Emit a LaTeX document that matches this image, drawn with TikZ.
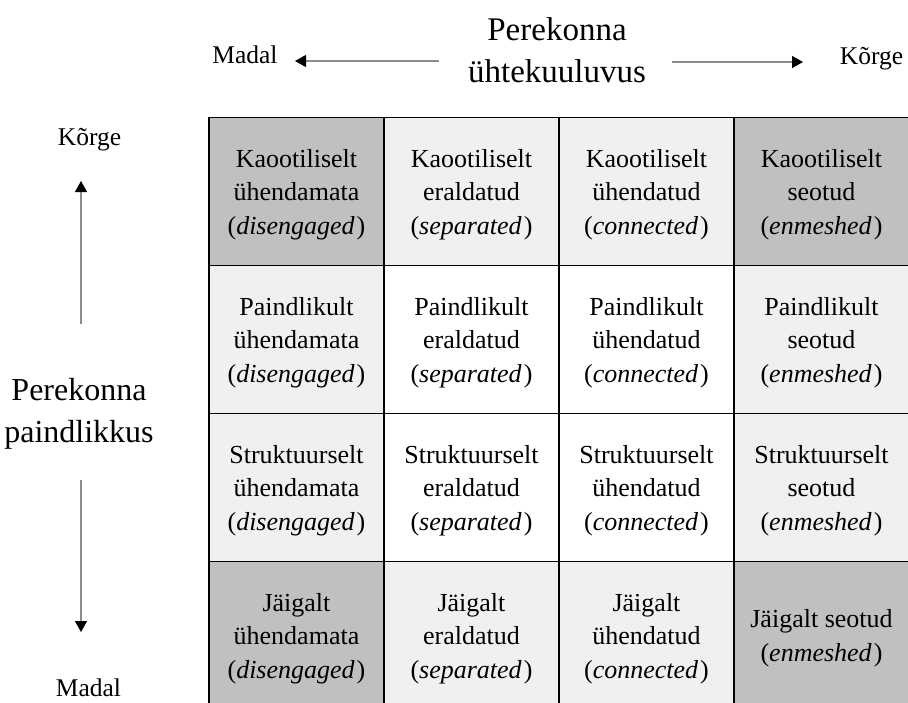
\documentclass[tikz,border=0pt]{standalone}
\usepackage{fontspec}
\setmainfont{Liberation Serif}
\usetikzlibrary{arrows.meta}
\definecolor{darkcell}{gray}{0.753}
\definecolor{lightcell}{gray}{0.94}
\definecolor{axisgray}{gray}{0.55}
\newcommand{\eng}[1]{(\textit{#1}\kern2pt)}
\begin{document}
\begin{tikzpicture}[x=1pt,y=-1pt,
  cell/.style={draw=black, line width=1.4pt, minimum width=175pt, minimum height=148pt,
    inner sep=0pt, align=center, text depth=0pt, font=\fontsize{26}{33.5}\selectfont},
  dk/.style={cell, fill=darkcell},
  lt/.style={cell, fill=lightcell},
  wt/.style={cell, fill=white},
  lab/.style={font=\fontsize{25.5}{30}\selectfont, inner sep=0pt, anchor=base},
  ttl/.style={font=\fontsize{33}{42}\selectfont, align=center, inner sep=0pt},
  axis/.style={draw=axisgray, line width=1.3pt,
    -{Triangle[length=11pt,width=12pt,color=black,fill=black]}}]
\useasboundingbox (0,0) rectangle (908,702);
\clip (0,0) rectangle (908,702);

% header
\node[ttl] (ttop) at (557,50) {Perekonna\\ühtekuuluvus};
\node[lab] (madaltop) at (245,63) {Madal};
\node[lab] (korgetop) at (871.5,64) {Kõrge};
\coordinate (a1s) at (439,61);
\coordinate (a1e) at (295,61);
\coordinate (a2s) at (672,62);
\coordinate (a2e) at (803,62);
\draw[axis] (a1s) -- (a1e);
\draw[axis] (a2s) -- (a2e);

% left
\node[ttl, font=\fontsize{32}{42}\selectfont] (tleft) at (79,413.5) {Perekonna\\paindlikkus};
\node[lab] (korgeleft) at (89.5,145) {Kõrge};
\node[lab] (madalleft) at (88.5,696) {Madal};
\coordinate (a3s) at (81,324);
\coordinate (a3e) at (81,181);
\coordinate (a4s) at (81,480);
\coordinate (a4e) at (81,632);
\draw[axis] (a3s) -- (a3e);
\draw[axis] (a4s) -- (a4e);

% grid
\node[dk] (c11) at (296.5,191.5) {Kaootiliselt\\ühendamata\\\eng{disengaged}};
\node[lt] (c12) at (471.5,191.5) {Kaootiliselt\\eraldatud\\\eng{separated}};
\node[lt] (c13) at (646.5,191.5) {Kaootiliselt\\ühendatud\\\eng{connected}};
\node[dk] (c14) at (821.5,191.5) {Kaootiliselt\\seotud\\\eng{enmeshed}};

\node[lt] (c21) at (296.5,339.5) {Paindlikult\\ühendamata\\\eng{disengaged}};
\node[wt] (c22) at (471.5,339.5) {Paindlikult\\eraldatud\\\eng{separated}};
\node[wt] (c23) at (646.5,339.5) {Paindlikult\\ühendatud\\\eng{connected}};
\node[lt] (c24) at (821.5,339.5) {Paindlikult\\seotud\\\eng{enmeshed}};

\node[lt] (c31) at (296.5,487.5) {Struktuurselt\\ühendamata\\\eng{disengaged}};
\node[wt] (c32) at (471.5,487.5) {Struktuurselt\\eraldatud\\\eng{separated}};
\node[wt] (c33) at (646.5,487.5) {Struktuurselt\\ühendatud\\\eng{connected}};
\node[lt] (c34) at (821.5,487.5) {Struktuurselt\\seotud\\\eng{enmeshed}};

\node[dk] (c41) at (296.5,635.5) {Jäigalt\\ühendamata\\\eng{disengaged}};
\node[lt] (c42) at (471.5,635.5) {Jäigalt\\eraldatud\\\eng{separated}};
\node[lt] (c43) at (646.5,635.5) {Jäigalt\\ühendatud\\\eng{connected}};
\node[dk] (c44) at (821.5,635.5) {Jäigalt seotud\\\eng{enmeshed}};
\end{tikzpicture}
\end{document}
